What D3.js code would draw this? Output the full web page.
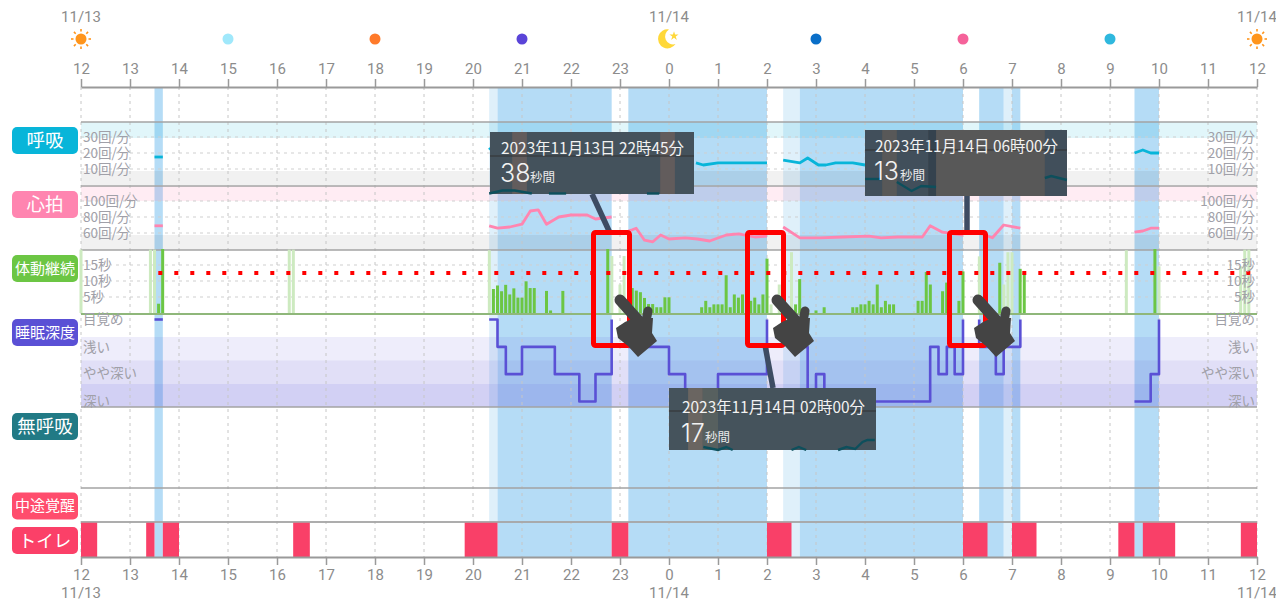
<!DOCTYPE html>
<html><head><meta charset="utf-8">
<script src="https://cdn.jsdelivr.net/npm/d3@7"></script>
<style>html,body{margin:0;padding:0;background:#fff;overflow:hidden}svg{display:block}
text{font-family:"Noto Sans CJK JP","Noto Sans",sans-serif}
.num{font-family:Roboto,"Noto Sans",sans-serif}
.big{font-family:Inter,Roboto,sans-serif}</style></head><body>
<svg id="c" width="1276" height="601"></svg>
<script>
// ---- data: hours run 12..36 (36 = noon of 11/14) ----
const hourTicks = d3.range(12, 37);
const dayLabels = [[12,"11/13"],[24,"11/14"],[36,"11/14"]];
const iconDots = [[15,"#a0e8fb"],[18,"#ff7a2a"],[21,"#5a44d8"],[27,"#0a6fc8"],[30,"#f5629a"],[33,"#2fb8de"]];
const sunHours = [12,36];
const moonHour = 24;
const sleepDark = [[13.5,13.67],[20.5,22.83],[23.17,26],[26.67,30],[30.33,30.83],[31,31.17],[33.5,34]];
const sleepPale = [[20.33,20.5],[26.33,26.67],[30.83,31]];
const toilet = [[12,12.33],[13.33,13.5],[13.67,14],[16.33,16.67],[19.83,20.5],[22.83,23.17],[26,26.5],[30,30.5],[31,31.5],[33.17,33.5],[33.67,34.33],[35.67,36]];
const rowLabels = ["呼吸","心拍","体動継続","睡眠深度","無呼吸","中途覚醒","トイレ"];
const rowColors = ["#08b5d9","#ff85b0","#6cc644","#5a50d5","#217a85","#ff4d6d","#fb4068"];
const respTicks = [30,20,10];
const heartTicks = [100,80,60];
const moveTicks = [15,10,5];
const depthNames = ["目覚め","浅い","やや深い","深い"];
const respSegments = [
 [[13.5,17.5],[13.67,17.5]],
 [[20.33,22],[20.36,23]],
 [[24.55,13.8],[24.7,12.5],[25,13.8],[26,13.8]],
 [[26.33,15.6],[26.67,13.8],[26.83,16.9],[27.05,12.5],[27.2,12.5],[27.4,13.8],[27.75,13.8],[28,12.5]],
 [[33.5,20],[33.67,21.9],[33.83,20],[34,20]]
];
const heartSegments = [
 [[13.5,69],[13.67,69]],
 [[20.33,69],[20.5,66],[20.75,67.5],[21,71],[21.17,87.5],[21.33,89],[21.5,71],[21.75,80],[22,82.5],[22.33,82.5],[22.5,77.5],[22.83,80]],
 [[23.17,62.5],[23.25,64],[23.33,66],[23.5,51],[23.67,49],[23.83,57.5],[24,52.5],[24.33,54],[24.58,52.5],[24.83,50],[25.17,57.5],[25.42,59],[25.75,55],[26,56]],
 [[26.33,67.5],[26.67,54],[27.08,54],[27.55,55],[28.08,56],[28.33,54],[28.67,55],[29.17,55],[29.33,69],[29.58,61],[30,57.5]],
 [[30.33,60],[30.6,54],[30.83,70],[31.17,66]],
 [[33.5,61],[33.67,62.5],[33.83,66],[34,66]]
];
const depthSegments = [
 [[13.5,0],[13.67,0]],
 [[20.33,0],[20.5,0],[20.5,1],[20.67,1],[20.67,2],[21,2],[21,1],[21.67,1],[21.67,2],[22.17,2],[22.17,3],[22.5,3],[22.5,2],[22.83,2],[22.83,0]],
 [[23.17,1],[24,1],[24,2],[24.33,2],[24.33,3],[25,3],[25,2],[26,2],[26,0]],
 [[26.67,1],[26.83,1],[26.83,3],[27,3],[27,2],[27.17,2],[27.17,3],[29.33,3],[29.33,1],[29.5,1],[29.5,2],[29.67,2],[29.67,1],[29.83,1],[29.83,2],[30,2],[30,0]],
 [[30.33,0],[30.33,1],[30.67,1],[30.67,2],[30.83,2],[30.83,1],[31.17,1],[31.17,0]],
 [[33.5,3],[33.83,3],[33.83,2],[34,2],[34,0]]
];
// movement bars: [5-minute slot since 12:00, seconds]
const moveAsleep = [[19,2.9],[20,20],[101,7.5],[102,8.6],[103,6.8],[104,8.8],[105,5.8],[106,7.7],[107,4.8],[108,4.8],[109,9.9],[110,7.8],[111,7.8],[114,6.9],[115,0.8],[118,6.9],[129,38],[135,7.8],[136,7],[137,6.5],[138,4.7],[139,2.8],[140,2.8],[141,1.8],[142,1.8],[143,4.9],[144,4.9],[152,1.8],[153,3.8],[154,1.8],[155,2.7],[156,2.7],[157,2.7],[158,11.8],[159,1.8],[160,5.8],[161,4.8],[162,5.8],[164,3.8],[165,4.8],[166,2.7],[167,5.8],[168,17],[175,2.7],[176,10.6],[180,0.8],[182,1.8],[189,1.8],[190,1.8],[191,2.7],[192,2.7],[193,3.8],[194,2.7],[195,8.9],[196,1.8],[197,3.8],[198,2.7],[199,2.7],[205,3.8],[206,3.8],[207,12.8],[208,8.9],[211,6.8],[212,9.5],[215,3.8],[216,13],[225,15.7],[230,13.8],[231,12.6],[263,20]];
const moveAwake = [[0,19.8],[17,19.8],[18,19.8],[51,19.8],[52,19.8],[100,19.6],[130,17.8],[132,8.9],[133,17.8],[169,2.7],[171,8.9],[174,19],[220,17.7],[226,8.9],[227,19],[228,19],[256,19.6],[264,14.6],[284,14.6],[285,19.8],[286,19.8]];
const moveLimit = 12.5;
// callouts
const tipTitles = ["2023年11月13日 22時45分","2023年11月14日 02時00分","2023年11月14日 06時00分"];
const tipSeconds = ["38","17","13"];
const tipUnit = "秒間";
const tipStripes = [
 [[20.8,21.1,"#625c5c"],[23.82,24.12,"#625c5c"]],
 [[24.39,24.69,"#6a6561"],[24.69,25,"#57605f"]],
 [[28,28.35,"#414f5b"],[28.65,29.29,"#414f5b"],[29.29,29.45,"#34424e"],[31.67,32.12,"#414f5b"]]
];
const tipTraces = [
 [[[20.33,0.5],[20.6,3.5],[20.85,3.5],[21.2,0.5]],[[21.55,0.5],[21.9,0.5]],[[23.55,0.5],[23.8,0.5]]],
 [[[24.7,3],[25,0],[25.17,3],[25.3,0]],[[26.5,0],[26.65,3],[26.8,0]],[[27.45,0],[27.62,3],[27.8,1],[27.95,8],[28.05,10],[28.2,10]]],
 [[[28,17],[28.35,17]],[[28.65,14],[28.95,5],[29.15,10],[29.45,9]],[[31.67,18],[31.8,20],[32.12,16]]]
];

// ---- scales ----
const x = d3.scaleLinear().domain([12,36]).range([81,1257]);
const yResp = d3.scaleLinear().domain([10,30]).range([169,137]);
const yHeart = d3.scaleLinear().domain([60,100]).range([233,201]);
const yMove = d3.scaleLinear().domain([0,20]).range([313,249]).clamp(true);
const yDepth = d3.scalePoint().domain([0,1,2,3]).range([319.5,401.5]);
const yTip = d3.scaleLinear().domain([0,20]).range([0,-20]);
const slotX = n => x(12 + n/12);

const svg = d3.select("#c");
const L=81,R=1257;
const hline=(g,y,c,w,dash)=>g.append("line").attr("x1",L).attr("x2",R).attr("y1",y).attr("y2",y).attr("stroke",c).attr("stroke-width",w).attr("stroke-dasharray",dash||null);

// sleep bands
svg.append("g").selectAll("rect").data(sleepPale).join("rect").attr("x",d=>x(d[0])).attr("width",d=>x(d[1])-x(d[0])).attr("y",87).attr("height",470).attr("fill","#dff0fa");
svg.append("g").selectAll("rect").data(sleepDark).join("rect").attr("x",d=>x(d[0])).attr("width",d=>x(d[1])-x(d[0])).attr("y",87).attr("height",470).attr("fill","#b5dcf6");

// tinted panel zones
const tint=(y,h,c,o)=>svg.append("rect").attr("x",L).attr("width",R-L).attr("y",y).attr("height",h).attr("fill",c).attr("opacity",o);
tint(122,16,"#08b5d9",.12); tint(171,14,"#000",.055);
tint(186,15,"#ff6f9f",.13); tint(235,15,"#000",.055);
tint(337,23.5,"#5a50d5",.1); tint(360.5,23.5,"#5a50d5",.18); tint(384,23,"#5a50d5",.27);

// grid
const grid=svg.append("g");
grid.selectAll("line").data(hourTicks).join("line").attr("x1",d=>x(d)).attr("x2",d=>x(d)).attr("y1",87).attr("y2",557).attr("stroke","#c6c6c6").attr("stroke-width",1).attr("stroke-dasharray","3,4");
const hg=svg.append("g");
[...respTicks.map(yResp),...heartTicks.map(yHeart),...moveTicks.map(yMove)].forEach(y=>hline(hg,y,"#cfcfcf",1,"3,4"));
[122,186,250,407,488,522].forEach(y=>hline(hg,y,"#a3a3a3",1.5));

// movement bars
svg.append("g").selectAll("rect").data(moveAwake).join("rect").attr("x",d=>slotX(d[0])-1.5).attr("width",3).attr("y",d=>yMove(d[1])).attr("height",d=>313-yMove(d[1])).attr("fill","#cdeac0");
svg.append("g").selectAll("rect").data(moveAsleep).join("rect").attr("x",d=>slotX(d[0])-1.5).attr("width",3).attr("y",d=>yMove(d[1])).attr("height",d=>313-yMove(d[1])).attr("fill","#6cc644");
hline(svg,314,"#8fb77a",2.2);

// lines
const path=(segs,yf,c,w,curve)=>svg.append("g").selectAll("path").data(segs).join("path").attr("fill","none").attr("stroke",c).attr("stroke-width",w).attr("stroke-linejoin","round")
  .attr("d",d3.line().x(d=>x(d[0])).y(d=>yf(d[1])).curve(curve||d3.curveLinear));
path(respSegments,yResp,"#08b5d9",2.8);
path(heartSegments,yHeart,"#ff85b0",2.8);
path(depthSegments,yDepth,"#5a50d5",2.6);

// toilet
svg.append("g").selectAll("rect").data(toilet).join("rect").attr("x",d=>x(d[0])).attr("width",d=>x(d[1])-x(d[0])).attr("y",522).attr("height",35).attr("fill","#f94068");
hline(svg,522,"#a8a8a8",1.5);

// limit dots
svg.append("line").attr("x1",158.3).attr("x2",1252).attr("y1",yMove(moveLimit)).attr("y2",yMove(moveLimit)).attr("stroke","#f00").attr("stroke-width",4).attr("stroke-dasharray","4,12");

// axes
function axis(gen,y){
  const g=svg.append("g").attr("transform",`translate(0,${y})`).call(gen);
  g.select(".domain").attr("stroke","#9a9a9a").attr("stroke-width",2);
  g.selectAll(".tick line").attr("stroke","#9a9a9a").attr("stroke-width",1.5);
  g.selectAll("text").attr("class","num").attr("fill","#8c8c8c").attr("font-size",15);
  return g;
}
const fmt=d=>d%24;
axis(d3.axisTop(x).tickValues(hourTicks).tickFormat(fmt).tickSize(8).tickSizeOuter(0).tickPadding(5),87);
axis(d3.axisBottom(x).tickValues(hourTicks).tickFormat(fmt).tickSize(8).tickSizeOuter(0).tickPadding(4),557);
svg.append("g").selectAll("text").data(dayLabels.flatMap(d=>[[d[0],d[1],17],[d[0],d[1],593]])).join("text").attr("class","num")
  .attr("x",d=>x(d[0])).attr("y",d=>d[2]).attr("dy",".36em").attr("text-anchor","middle").attr("font-size",15).attr("fill","#8c8c8c").text(d=>d[1]);

// icons
svg.append("g").selectAll("circle").data(iconDots).join("circle").attr("cx",d=>x(d[0])).attr("cy",39).attr("r",5.5).attr("fill",d=>d[1]);
sunHours.forEach(h=>{
  const g=svg.append("g").attr("transform",`translate(${x(h)},39)`);
  g.append("circle").attr("r",5.5).attr("fill","#ff951c");
  d3.range(8).forEach(i=>{const a=i*Math.PI/4;g.append("line").attr("x1",7.5*Math.cos(a)).attr("y1",7.5*Math.sin(a)).attr("x2",10*Math.cos(a)).attr("y2",10*Math.sin(a)).attr("stroke","#ff951c").attr("stroke-width",1.6);});
});
{
  const g=svg.append("g").attr("transform",`translate(${x(moonHour)-2},39)`);
  g.append("path").attr("d","M2,-9.5 A9.5,9.5 0 1 0 8.5,5 A8,8 0 0 1 2,-9.5Z").attr("fill","#ffd83a");
  g.append("path").attr("d",d3.symbol(d3.symbolStar,26)()).attr("transform","translate(7,-3)").attr("fill","#ffd83a");
}

// row labels
const rowY=[127,191,255,319,413,492.5,527];
const rowFont=[18.5,18.5,15,15,18.5,15,17.5];
const rl=svg.append("g").selectAll("g").data(rowLabels).join("g").attr("transform",(d,i)=>`translate(12,${rowY[i]})`);
rl.append("rect").attr("width",66).attr("height",27).attr("rx",5).attr("fill",(d,i)=>rowColors[i]);
rl.append("text").attr("x",33).attr("y",13.5).attr("dy",".36em").attr("text-anchor","middle").attr("fill","#fff").attr("font-size",(d,i)=>rowFont[i]).text(d=>d);

// y labels, both sides
const sideText=(items,yf,fmtf)=>{[[83,"start"],[1255,"end"]].forEach(([px,a])=>{
  svg.append("g").selectAll("text").data(items).join("text").attr("x",px).attr("y",yf).attr("dy",".36em").attr("text-anchor",a).attr("font-size",13.5).attr("fill","#a0a0a8").text(fmtf);
});};
sideText(respTicks,yResp,d=>d+"回/分");
sideText(heartTicks,yHeart,d=>d+"回/分");
sideText(moveTicks,yMove,d=>d+"秒");
const depthTextY=[319,347,373,401];
sideText(depthNames,(d,i)=>depthTextY[i],d=>d);

// callouts
const tips=[{x:490,y:132,w:204,h:62,base:"#44525c",line:24,t:22,n:50,ux:530,tx:501,link:[592,194,610,233],box:[593.5,232.5]},
            {x:669,y:388,w:207,h:62,base:"#45535c",line:23,t:25,n:54,ux:705,tx:682,link:[773,388,765,345],box:[747.5,232.5]},
            {x:865,y:130,w:202,h:66,base:"#585858",line:20,t:22,n:50,ux:900,tx:875,link:[967,196,967,233],box:[949.5,232.5]}];
tips.forEach((b,i)=>{
  svg.append("line").attr("x1",b.link[0]).attr("y1",b.link[1]).attr("x2",b.link[2]).attr("y2",b.link[3]).attr("stroke","#3d4c63").attr("stroke-width",5.5);
  const g=svg.append("g");
  g.append("rect").attr("x",b.x).attr("y",b.y).attr("width",b.w).attr("height",b.h).attr("fill",b.base);
  g.selectAll(".s").data(tipStripes[i]).join("rect").attr("class","s").attr("x",d=>x(d[0])).attr("width",d=>x(d[1])-x(d[0])).attr("y",b.y).attr("height",b.h).attr("fill",d=>d[2]);
  g.append("line").attr("x1",b.x).attr("x2",b.x+b.w).attr("y1",b.y+b.line).attr("y2",b.y+b.line).attr("stroke","#333").attr("stroke-width",1.2);
  g.selectAll(".tr").data(tipTraces[i]).join("path").attr("class","tr").attr("fill","none").attr("stroke","#0d4f5c").attr("stroke-width",2.4)
    .attr("d",d3.line().x(d=>x(d[0])).y(d=>b.y+b.h+yTip(d[1])));
  g.append("text").attr("x",b.tx).attr("y",b.y+b.t).attr("fill","#f2f2f2").attr("font-size",15.4).text(tipTitles[i]);
  g.append("text").attr("class","big").attr("x",b.tx-1).attr("y",b.y+b.n).attr("fill","#f2f2f2").attr("font-size",25).attr("font-weight",300).text(tipSeconds[i]);
  g.append("text").attr("x",b.ux).attr("y",b.y+b.n).attr("fill","#eaeaea").attr("font-size",12.5).text(tipUnit);
  svg.append("rect").attr("x",b.box[0]).attr("y",b.box[1]).attr("width",36).attr("height",113).attr("rx",2).attr("fill","none").attr("stroke","#f00").attr("stroke-width",5);
});

// pointing hands
[620,777,978].forEach(hx=>{
  const g=svg.append("g").attr("transform",`translate(${hx},300)`).attr("fill","#444").attr("stroke","#444");
  g.append("line").attr("x1",0).attr("y1",0).attr("x2",18).attr("y2",20).attr("stroke-width",11).attr("stroke-linecap","round");
  g.append("line").attr("x1",28).attr("y1",11).attr("x2",25).attr("y2",26).attr("stroke-width",9).attr("stroke-linecap","round");
  g.append("path").attr("stroke","none").attr("d","M-4,28 L5,22 L14,18 L33,18 L32,33 L37,41 L18,57 L8,46 L-2,38 Z");
});
</script></body></html>
